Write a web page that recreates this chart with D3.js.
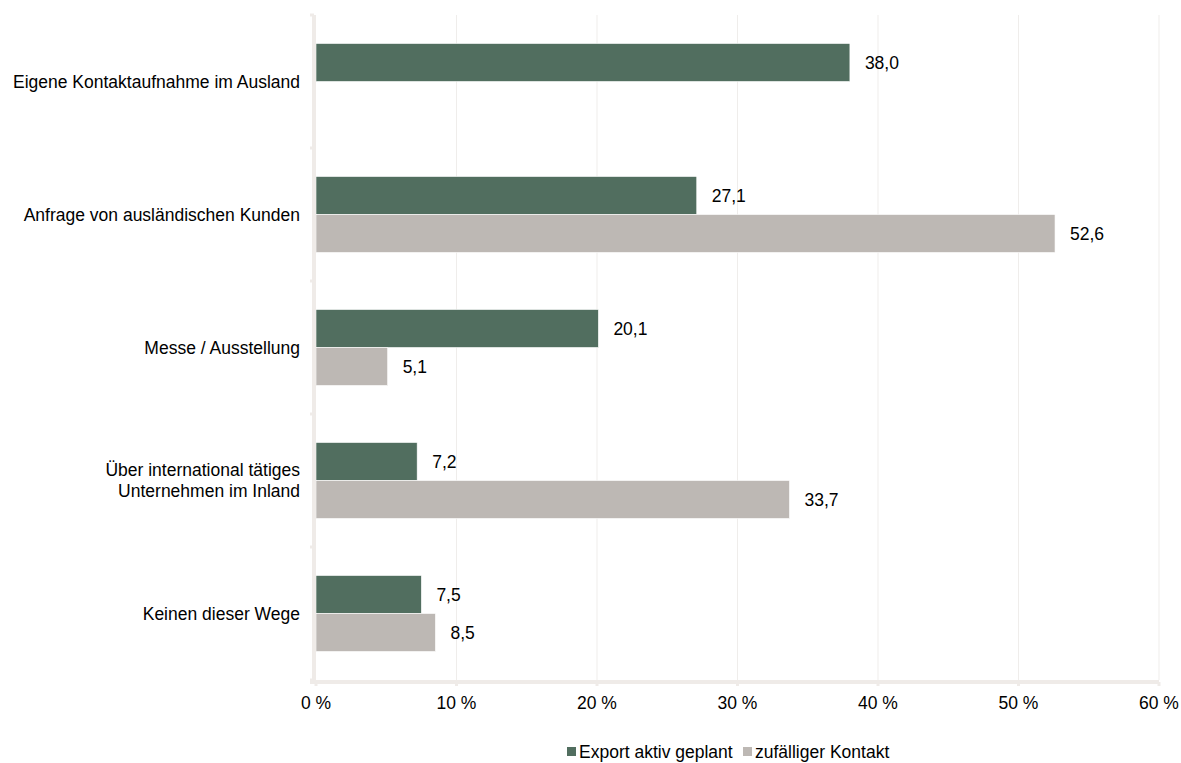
<!DOCTYPE html>
<html lang="de">
<head>
<meta charset="UTF-8">
<title>Wege in den Export</title>
<script src="https://d3js.org/d3.v7.min.js"></script>
<style>
    body { margin: 0; background: #fff; }
    text { font-family: "Liberation Sans", Arial, sans-serif; font-size: 17.5px; fill: #000; }
</style>
</head>
<body>
<svg width="1181" height="763"></svg>
<script>
    const categories = [
        ["Eigene Kontaktaufnahme im Ausland"],
        ["Anfrage von ausländischen Kunden"],
        ["Messe / Ausstellung"],
        ["Über international tätiges", "Unternehmen im Inland"],
        ["Keinen dieser Wege"]
    ];
    const seriesNames = ["Export aktiv geplant", "zufälliger Kontakt"];
    const exportPlanned = [38.0, 27.1, 20.1, 7.2, 7.5];
    const randomContact = [null, 52.6, 5.1, 33.7, 8.5];
    const xTicks = [0, 10, 20, 30, 40, 50, 60];
    const colors = ["#516e5f", "#bdb8b4"];

    const margin = { top: 15, right: 22, bottom: 83, left: 316 },
          width = 1181 - margin.left - margin.right,
          height = 763 - margin.top - margin.bottom;

    const svg = d3.select("svg")
      .append("g")
        .attr("transform", "translate(" + margin.left + "," + margin.top + ")");

    const x = d3.scaleLinear().domain([0, 60]).range([0, width]);
    const y = d3.scaleBand().domain(d3.range(categories.length)).range([0, height]);
    const barH = 38;

    // grid lines
    svg.selectAll(".grid")
        .data(xTicks.slice(1))
      .enter().append("line")
        .attr("x1", d => x(d)).attr("x2", d => x(d))
        .attr("y1", 0).attr("y2", height)
        .attr("stroke", "#efedeb").attr("stroke-width", 1);

    const series = [exportPlanned, randomContact];
    series.forEach((vals, s) => {
        const rows = vals.map((v, i) => ({ v: v, i: i })).filter(d => d.v != null);
        const yOff = d => y(d.i) + y.bandwidth() / 2 - barH + s * barH;
        svg.selectAll(".bar" + s)
            .data(rows)
          .enter().append("rect")
            .attr("x", 0)
            .attr("y", yOff)
            .attr("width", d => x(d.v))
            .attr("height", barH)
            .attr("fill", colors[s])
            .attr("stroke", "#fff").attr("stroke-width", 0.6);
        svg.selectAll(".lbl" + s)
            .data(rows)
          .enter().append("text")
            .attr("x", d => x(d.v) + 15)
            .attr("y", d => yOff(d) + barH / 2)
            .attr("dy", "0.35em")
            .text(d => d3.format(".1f")(d.v).replace(".", ","));
    });

    // y axis
    svg.append("line")
        .attr("x1", -2).attr("x2", -2).attr("y1", 0).attr("y2", height + 2)
        .attr("stroke", "#efebe8").attr("stroke-width", 4);
    svg.selectAll(".ytick")
        .data(d3.range(categories.length + 1))
      .enter().append("line")
        .attr("x1", -6).attr("x2", -2)
        .attr("y1", d => d * y.step()).attr("y2", d => d * y.step())
        .attr("stroke", "#efebe8").attr("stroke-width", 3);

    // x axis
    svg.append("line")
        .attr("x1", -6).attr("x2", width).attr("y1", height + 2).attr("y2", height + 2)
        .attr("stroke", "#efebe8").attr("stroke-width", 4);
    svg.selectAll(".xtick")
        .data(xTicks)
      .enter().append("line")
        .attr("x1", d => x(d)).attr("x2", d => x(d))
        .attr("y1", height + 2).attr("y2", height + 6)
        .attr("stroke", "#efebe8").attr("stroke-width", 3);
    svg.selectAll(".xlbl")
        .data(xTicks)
      .enter().append("text")
        .attr("x", d => x(d))
        .attr("y", height + 29)
        .attr("text-anchor", "middle")
        .text(d => d + " %");

    // category labels
    const cat = svg.selectAll(".cat")
        .data(categories)
      .enter().append("text")
        .attr("text-anchor", "end")
        .attr("transform", (d, i) => "translate(-16," + (y(i) + y.bandwidth() / 2) + ")");
    cat.each(function(lines) {
        const t = d3.select(this);
        lines.forEach((l, k) => {
            t.append("tspan")
                .attr("x", 0)
                .attr("y", (k - (lines.length - 1) / 2) * 21)
                .attr("dy", "0.35em")
                .text(l);
        });
    });

    // legend
    const legend = d3.select("svg").append("g").attr("transform", "translate(567,752)");
    const lx = [0, 176];
    seriesNames.forEach((n, s) => {
        legend.append("rect")
            .attr("x", lx[s]).attr("y", -5)
            .attr("width", 9).attr("height", 9)
            .attr("fill", colors[s]);
        legend.append("text")
            .attr("x", lx[s] + 12).attr("y", 0)
            .attr("dy", "0.35em")
            .text(n);
    });
</script>
</body>
</html>
